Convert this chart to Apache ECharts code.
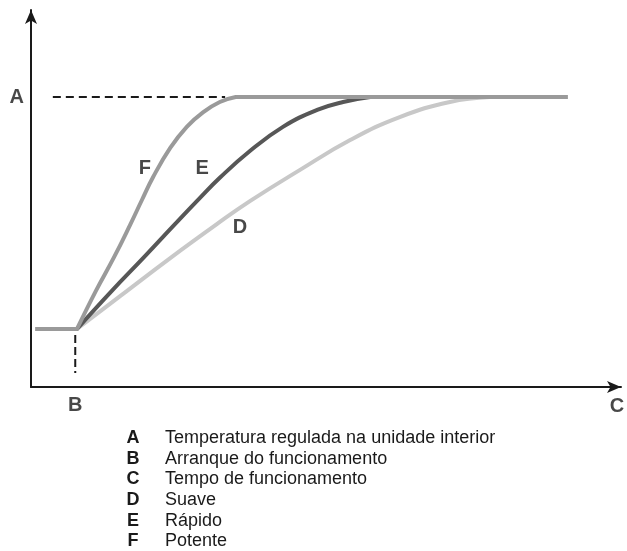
<!DOCTYPE html>
<html lang="pt">
<head>
    <meta charset="UTF-8">
    <title>Curvas de arranque</title>
    <style>
        html, body { margin: 0; padding: 0; background: #ffffff; }
        #main { width: 627px; height: 551px; }
    </style>
    <script type="text/javascript" src="https://cdn.jsdelivr.net/npm/echarts@6/dist/echarts.min.js"></script>
</head>
<body>
<div id="main"></div>
<script type="text/javascript">
    // values: time 0-100 (x), temperature 0-100 (y)
    var startLevel = 15.4;
    var setLevel = 76.9;

    var startX = [0.7, 7.8];
    var potenteX = [7.8, 11.0, 14.1, 16.8, 18.8, 20.7, 23.6, 26.4, 29.2, 32.0, 34.7];
    var potenteY = [15.4, 25.5, 34.5, 43.0, 49.6, 55.7, 63.4, 69.0, 72.9, 75.6, 76.9];
    var rapidoX = [7.8, 13.7, 19.2, 24.4, 28.6, 32.0, 37.1, 42.7, 48.5, 52.9, 57.5];
    var rapidoY = [15.4, 25.5, 34.5, 43.2, 50.1, 55.5, 62.6, 69.0, 73.5, 75.6, 76.9];
    var suaveX = [7.8, 15.1, 23.6, 31.5, 37.1, 45.6, 54.1, 62.5, 71.0, 77.8];
    var suaveY = [15.4, 24.1, 34.2, 43.2, 49.3, 57.6, 65.5, 71.6, 75.6, 76.9];
    var plateauX = [34.7, 91.0];

    var dashA = [3.7, 32.9];      // x range of dashed set-temperature line
    var dashB = [13.8, 3.7];      // y range of dashed start line
    var dashBX = 7.5;

    var legendKeys = ['A', 'B', 'C', 'D', 'E', 'F'];
    var legendTexts = ['Temperatura regulada na unidade interior', 'Arranque do funcionamento',
        'Tempo de funcionamento', 'Suave', 'Rápido', 'Potente'];

    // letter annotations, in chart units
    var letterNames = ['A', 'B', 'C', 'D', 'E', 'F'];
    var letterX = [-2.4, 7.5, 99.3, 35.4, 29.0, 19.3];
    var letterY = [76.7, -4.9, -5.2, 42.4, 58.0, 58.0];

    function pairs(xs, ys) {
        var out = [];
        for (var i = 0; i < xs.length; i++) out.push([xs[i], ys[i]]);
        return out;
    }

    var letterData = [];
    for (var i = 0; i < letterNames.length; i++) {
        letterData.push({name: letterNames[i], value: [letterX[i], letterY[i]]});
    }

    var legendGraphic = [];
    for (var j = 0; j < legendKeys.length; j++) {
        legendGraphic.push({
            type: 'text', x: 133, y: 438 + j * 20.7,
            style: {text: legendKeys[j], font: 'bold 18px "Liberation Sans", Arial, sans-serif',
                fill: '#1a1a1a', align: 'center', verticalAlign: 'middle'}
        });
        legendGraphic.push({
            type: 'text', x: 165, y: 438 + j * 20.7,
            style: {text: legendTexts[j], font: '18px "Liberation Sans", Arial, sans-serif',
                fill: '#1a1a1a', verticalAlign: 'middle'}
        });
    }

    var axisStyle = {
        show: true,
        symbol: ['none', 'arrow'],
        symbolSize: [9, 14],
        lineStyle: {color: '#1a1a1a', width: 2}
    };

    var curve = function (name, data, color) {
        return {
            name: name,
            type: 'line',
            data: data,
            smooth: 0.45,
            symbol: 'none',
            lineStyle: {color: color, width: 4, cap: 'round'}
        };
    };

    var chart = echarts.init(document.getElementById('main'));
    var option = {
        animation: false,
        backgroundColor: '#ffffff',
        grid: {left: 31, right: 6, top: 10, bottom: 164},
        xAxis: {
            type: 'value', min: 0, max: 100,
            axisLine: axisStyle, axisTick: {show: false}, axisLabel: {show: false}, splitLine: {show: false}
        },
        yAxis: {
            type: 'value', min: 0, max: 100,
            axisLine: axisStyle, axisTick: {show: false}, axisLabel: {show: false}, splitLine: {show: false}
        },
        graphic: legendGraphic,
        series: [{
            name: 'dashA',
            type: 'line',
            data: [[dashA[0], setLevel], [dashA[1], setLevel]],
            symbol: 'none',
            lineStyle: {color: '#1a1a1a', width: 2, type: [8, 5]}
        }, {
            name: 'dashB',
            type: 'line',
            data: [[dashBX, dashB[0]], [dashBX, dashB[1]]],
            symbol: 'none',
            lineStyle: {color: '#1a1a1a', width: 2, type: [8, 4]}
        },
            curve('Suave', pairs(suaveX, suaveY), '#c8c8c8'),
            curve('Rápido', pairs(rapidoX, rapidoY), '#575757'),
            curve('Potente', pairs(potenteX, potenteY), '#9a9a9a'),
        {
            name: 'start',
            type: 'line',
            data: [[startX[0], startLevel], [startX[1], startLevel]],
            symbol: 'none',
            lineStyle: {color: '#9a9a9a', width: 4}
        }, {
            name: 'plateau',
            type: 'line',
            data: [[plateauX[0], setLevel], [plateauX[1], setLevel]],
            symbol: 'none',
            lineStyle: {color: '#9a9a9a', width: 4}
        }, {
            name: 'letters',
            type: 'scatter',
            data: letterData,
            symbolSize: 0,
            clip: false,
            silent: true,
            label: {
                show: true, position: 'inside', formatter: '{b}',
                color: '#1a1a1a', fontSize: 20, fontWeight: 'bold',
                fontFamily: '"Liberation Sans", Arial, sans-serif'
            }
        }]
    };
    chart.setOption(option);
</script>
</body>
</html>
